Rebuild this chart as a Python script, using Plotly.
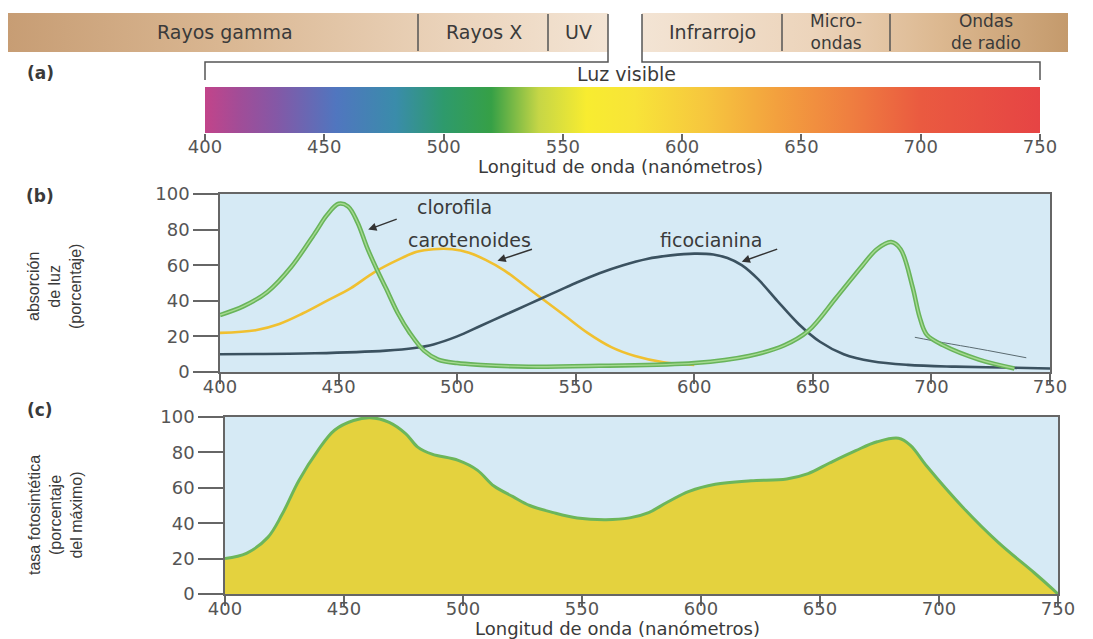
import plotly.graph_objects as go

# The page body has an 8px margin, so the figure is drawn 8px in from the
# window corner; all layout positions below are given in window pixels.
OFF = 8
W, H = 1093 - 2 * OFF, 639 - OFF


def px(x):
    return (x - OFF) / W


def py(y):
    return 1 - (y - OFF) / H


# ---------------- data ----------------
wavelength_ticks = [400, 450, 500, 550, 600, 650, 700, 750]
percent_ticks = [0, 20, 40, 60, 80, 100]

# electromagnetic band (top strip)
band_labels = ["Rayos gamma", "Rayos X", "UV", "Infrarrojo", "Micro-<br>ondas", "Ondas<br>de radio"]
band_label_px = [225, 484, 578, 712, 836, 986]
band_dividers_px = [418, 548, 782, 890]

# visible spectrum colour stops (nm, colour)
spectrum_nm = [400, 415, 430, 455, 480, 500, 520, 540, 560, 580, 610, 640, 670, 700, 750]
spectrum_col = ["#c2448a", "#a04d98", "#8458a6", "#5076bf", "#3a8caa", "#2e9a6c", "#36a046",
                "#c6d646", "#f8ec30", "#f8e438", "#f6c63e", "#f3a03e", "#ef7f40", "#ea5a40", "#e64444"]

# (b) absorption spectra
chl_nm = [400, 410, 420, 430, 440, 445, 450, 454, 458, 462, 466, 470, 475, 480, 486, 492, 500, 510,
          530, 560, 600, 623, 638, 648, 660, 671, 677, 683, 687, 692, 695, 698, 705, 720, 735]
chl_abs = [32, 37, 45, 59, 78, 88, 94.5, 93, 84, 70, 58, 47, 33, 22, 12, 7, 5, 4,
           3, 3.5, 5, 9, 15, 23, 42, 60, 69, 73, 69, 48, 31, 21, 15, 7, 2]

car_nm = [400, 415, 425, 435, 445, 455, 465, 475, 483, 490, 498, 505, 512, 520, 528, 537, 546,
          555, 565, 575, 587, 600]
car_abs = [22, 23.5, 27, 33, 40, 47, 56, 63, 67.5, 69, 69, 67, 63, 57, 49, 40, 31,
           22, 14, 9, 5.5, 4]

phy_nm = [400, 440, 470, 482, 490, 500, 510, 520, 530, 540, 550, 560, 570, 580, 590, 600, 608, 614,
          620, 627, 635, 644, 653, 663, 675, 690, 710, 730, 750]
phy_abs = [10, 10.5, 12, 13.5, 15.5, 20, 26, 32, 38, 44, 50, 55.5, 60, 63.5, 65.5, 66.5, 66, 64,
           60, 52, 40, 27, 17, 10, 6, 4, 3, 2.5, 2]

thin_nm = [693, 705, 720, 740]
thin_abs = [19.5, 16.5, 13, 8]

# (c) photosynthetic rate
ps_nm = [400, 409, 418, 424, 431, 439, 446, 454, 461, 469, 476, 481, 487, 498, 506, 513, 521, 528,
         538, 548, 560, 570, 578, 586, 595, 606, 621, 636, 645, 654, 665, 674, 683, 688, 695, 710,
         725, 740, 748, 750]
ps_rate = [20, 23, 32, 45, 64, 81, 92.5, 98, 99.6, 97, 90.5, 83, 79, 75.5, 70, 61, 55, 50,
           46, 43, 42, 43, 46, 52, 58, 62, 64, 65, 68, 74, 81, 86, 88, 84, 72, 49,
           29, 12, 2.5, 0]

# ---------------- styles ----------------
TXT = "#3a3a3a"
TICKC = "#555555"
LINEC = "#666666"
BG = "#d6eaf5"
FONT = "DejaVu Sans"
NARROW = "Liberation Sans Narrow, Arial Narrow, Liberation Sans"

fig = go.Figure()

# ---- top band (overlay pixel axis x4/y4) ----
left_grad = [[0, "#c79d74"], [0.35, "#d9b691"], [0.75, "#ebd4bc"], [1, "#f3e4d4"]]
right_grad = [[0, "#f3e4d4"], [0.4, "#ecd4bb"], [0.7, "#dcb890"], [1, "#c49a6c"]]
for x0, x1, grad in [(8, 608, left_grad), (642, 1068, right_grad)]:
    fig.add_trace(go.Scatter(
        x=[x0, x1, x1, x0, x0], y=[13, 13, 52, 52, 13], xaxis="x4", yaxis="y4",
        mode="lines", line=dict(width=0), fill="toself",
        fillgradient=dict(type="horizontal", colorscale=grad),
        hoverinfo="skip", showlegend=False))

# ---- (a) visible spectrum ----
spec_scale = [[(n - 400) / 350, c] for n, c in zip(spectrum_nm, spectrum_col)]
fig.add_trace(go.Scatter(
    x=[400, 750, 750, 400, 400], y=[0, 0, 1, 1, 0], xaxis="x", yaxis="y",
    mode="lines", line=dict(width=0), fill="toself",
    fillgradient=dict(type="horizontal", colorscale=spec_scale),
    hoverinfo="skip", showlegend=False))

# ---- (b) absorption ----
fig.add_trace(go.Scatter(x=thin_nm, y=thin_abs, xaxis="x2", yaxis="y2", mode="lines",
                         line=dict(color="#5a6a70", width=1, shape="spline"), showlegend=False))
fig.add_trace(go.Scatter(x=car_nm, y=car_abs, xaxis="x2", yaxis="y2", mode="lines",
                         line=dict(color="#f0c030", width=2.6, shape="spline"), showlegend=False))
fig.add_trace(go.Scatter(x=phy_nm, y=phy_abs, xaxis="x2", yaxis="y2", mode="lines",
                         line=dict(color="#3b5260", width=2.6, shape="spline"), showlegend=False))
fig.add_trace(go.Scatter(x=chl_nm, y=chl_abs, xaxis="x2", yaxis="y2", mode="lines",
                         line=dict(color="#68b45a", width=4.5, shape="spline"), showlegend=False))
fig.add_trace(go.Scatter(x=chl_nm, y=chl_abs, xaxis="x2", yaxis="y2", mode="lines",
                         line=dict(color="#a6da92", width=1.4, shape="spline"), showlegend=False))

# ---- (c) photosynthetic rate ----
fig.add_trace(go.Scatter(x=ps_nm, y=ps_rate, xaxis="x3", yaxis="y3", mode="lines",
                         line=dict(color="#6cb65a", width=3, shape="spline"),
                         fill="tozeroy", fillcolor="#e4d23e", showlegend=False))

tickfont = dict(family=FONT, size=18, color=TICKC)
common_x = dict(range=[400, 750], tickvals=wavelength_ticks, ticks="outside", tickcolor=LINEC,
                tickwidth=1.5, showgrid=False, zeroline=False, tickfont=tickfont, automargin=False)
common_y = dict(range=[0, 100], tickvals=percent_ticks, ticks="outside", tickcolor=LINEC,
                tickwidth=1.5, ticklen=25, showgrid=False, zeroline=False, tickfont=tickfont,
                showline=True, linecolor=LINEC, linewidth=1.5, mirror=True, automargin=False)

fig.update_layout(
    template="none",
    width=W, height=H, autosize=False,
    margin=dict(l=0, r=0, t=0, b=0, pad=0),
    paper_bgcolor="white", plot_bgcolor="rgba(0,0,0,0)",
    xaxis=dict(domain=[px(205), px(1040)], anchor="y", ticklen=7, ticklabelstandoff=-10, **common_x),
    yaxis=dict(domain=[py(133), py(87)], range=[0, 1], visible=False, anchor="x", automargin=False),
    xaxis2=dict(domain=[px(220), px(1050)], anchor="y2", ticklen=10, ticklabelstandoff=-12,
                showline=True, linecolor=LINEC, linewidth=1.5, mirror=True, **common_x),
    yaxis2=dict(domain=[py(372), py(194)], anchor="x2", **common_y),
    xaxis3=dict(domain=[px(225), px(1058)], anchor="y3", ticklen=10, ticklabelstandoff=-12,
                showline=True, linecolor=LINEC, linewidth=1.5, mirror=True, **common_x),
    yaxis3=dict(domain=[py(594), py(417)], anchor="x3", **common_y),
    xaxis4=dict(domain=[0, 1], range=[OFF, OFF + W], visible=False, anchor="y4", automargin=False),
    yaxis4=dict(domain=[0, 1], range=[OFF + H, OFF], visible=False, anchor="x4", automargin=False),
)

shapes = []
for ax in ["2", "3"]:
    shapes.append(dict(type="rect", xref=f"x{ax} domain", yref=f"y{ax} domain", x0=0, x1=1,
                       y0=0, y1=1, fillcolor=BG, line=dict(width=0), layer="below"))
for d in band_dividers_px:
    shapes.append(dict(type="line", xref="x4", yref="y4", x0=d, x1=d, y0=14, y1=51,
                       line=dict(color="#555", width=1.5)))
shapes.append(dict(type="path", xref="x4", yref="y4", path="M 608 14 L 608 62 L 205 62 L 205 80",
                   line=dict(color="#555", width=1.5)))
shapes.append(dict(type="path", xref="x4", yref="y4", path="M 642 14 L 642 62 L 1040 62 L 1040 80",
                   line=dict(color="#555", width=1.5)))
fig.update_layout(shapes=shapes)


def label(text, x, y, size, family=FONT, angle=0):
    return dict(text=text, x=px(x), y=py(y), xref="paper", yref="paper", showarrow=False,
                xanchor="center", yanchor="middle", textangle=angle,
                font=dict(family=family, size=size, color=TXT))


ann = []
for lab, x in zip(band_labels, band_label_px):
    ann.append(label(lab, x, 32, 17 if "<br>" in lab else 19))
ann += [
    label("<b>(a)</b>", 40, 73, 17),
    label("<b>(b)</b>", 40, 196, 17),
    label("<b>(c)</b>", 40, 410, 17),
    label("Luz visible", 626, 74, 19),
    label("Longitud de onda (nanómetros)", 620, 167, 18),
    label("Longitud de onda (nanómetros)", 617, 628, 18),
    label("absorción<br>de luz<br>(porcentaje)", 54, 287, 16, NARROW, -90),
    label("tasa fotosintética<br>(porcentaje<br>del máximo)", 55, 515, 16, NARROW, -90),
]
ann += [
    dict(text="clorofila", x=499, y=92.5, xref="x2", yref="y2", showarrow=False,
         font=dict(family=FONT, size=19, color=TXT)),
    dict(text="carotenoides", x=505, y=74, xref="x2", yref="y2", showarrow=False,
         font=dict(family=FONT, size=19, color=TXT)),
    dict(text="ficocianina", x=607, y=74, xref="x2", yref="y2", showarrow=False,
         font=dict(family=FONT, size=19, color=TXT)),
]
arrow = dict(showarrow=True, arrowhead=2, arrowsize=1.1, arrowwidth=1.5, arrowcolor="#333",
             text="", xref="x2", yref="y2")
ann += [
    dict(x=462.5, y=80, ax=30, ay=-11, **arrow),
    dict(x=517, y=62.5, ax=36, ay=-12, **arrow),
    dict(x=620, y=62, ax=37, ay=-13, **arrow),
]
fig.update_layout(annotations=ann)

fig.write_html("out.html")
